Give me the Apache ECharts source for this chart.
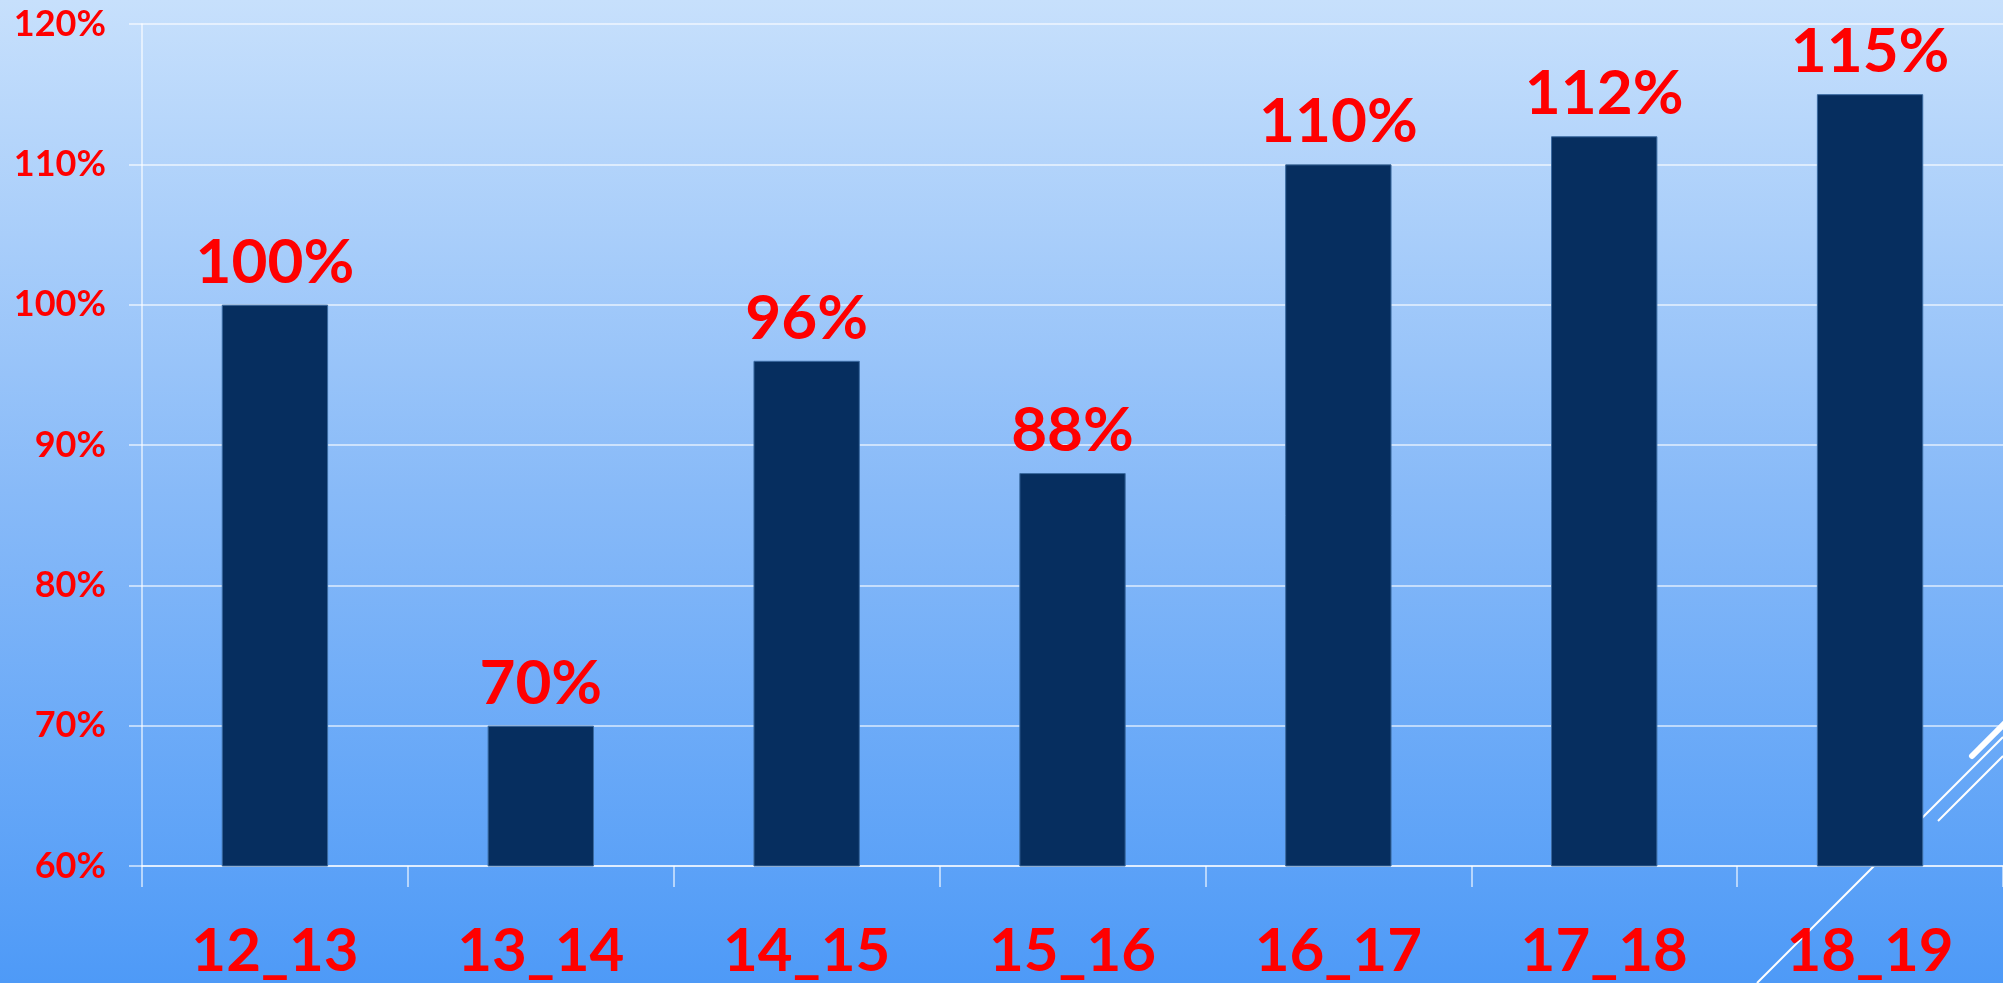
<!DOCTYPE html>
<html>
<head>
<meta charset="utf-8">
<script src="https://cdn.jsdelivr.net/npm/echarts@6/dist/echarts.min.js"></script>
<style>
html,body{margin:0;padding:0;width:2003px;height:983px;overflow:hidden;}
#chart{width:2003px;height:983px;}
</style>
</head>
<body>
<div id="chart"></div>
<script>
const categories = ['12_13','13_14','14_15','15_16','16_17','17_18','18_19'];
const values = [100, 70, 96, 88, 110, 112, 115];
const yMin = 60, yMax = 120, yStep = 10;

const FONT = 'Lato';
const chart = echarts.init(document.getElementById('chart'), null, {renderer:'canvas'});
chart.setOption({
  backgroundColor: {
    type: 'linear', x: 0, y: 0, x2: 0, y2: 1,
    colorStops: [
      {offset: 0, color: '#c7e0fc'},
      {offset: 0.5, color: '#88baf8'},
      {offset: 1, color: '#4e9af7'}
    ]
  },
  animation: false,
  graphic: [
    {type:'line', z: 0, zlevel: 0, shape:{x1:1757,y1:983,x2:2003,y2:737}, style:{stroke:'#ffffff', lineWidth:2}},
    {type:'line', z: 0, zlevel: 0, shape:{x1:1938,y1:821,x2:2003,y2:756}, style:{stroke:'#ffffff', lineWidth:2}},
    {type:'line', z: 0, zlevel: 0, shape:{x1:1972,y1:756,x2:2006,y2:722}, style:{stroke:'#ffffff', lineWidth:6, lineCap:'round'}}
  ],
  grid: {left: 142, top: 24, width: 1864, height: 842, containLabel: false},
  xAxis: {
    type: 'category',
    data: categories,
    boundaryGap: true,
    axisLine: {show: true, lineStyle: {color: 'rgba(255,255,255,0.75)', width: 1.5}},
    axisTick: {show: true, length: 21, alignWithLabel: false, lineStyle: {color: 'rgba(255,255,255,0.75)', width: 1.5}},
    axisLabel: {color: '#ff0000', fontFamily: FONT, fontWeight: 'bold', fontSize: 60, margin: 56},
    splitLine: {show: false}
  },
  yAxis: {
    type: 'value',
    min: yMin, max: yMax, interval: yStep,
    axisLine: {show: true, lineStyle: {color: 'rgba(255,255,255,0.75)', width: 1.5}},
    axisTick: {show: true, length: 13, lineStyle: {color: 'rgba(255,255,255,0.75)', width: 1.5}},
    axisLabel: {color: '#ff0000', fontFamily: FONT, fontWeight: 'bold', fontSize: 36, margin: 36,
      formatter: v => v + '%'},
    splitLine: {show: true, lineStyle: {color: 'rgba(255,255,255,0.75)', width: 1.5}}
  },
  series: [{
    type: 'bar',
    data: values,
    barWidth: '40%',
    z: 5,
    itemStyle: {color: '#062e5f', borderColor: '#3a6aa0', borderWidth: 1},
    label: {show: true, position: 'top', distance: 11, color: '#ff0000',
      fontFamily: FONT, fontWeight: 'bold', fontSize: 62, formatter: p => p.value + '%'}
  }]
});
</script>
</body>
</html>
